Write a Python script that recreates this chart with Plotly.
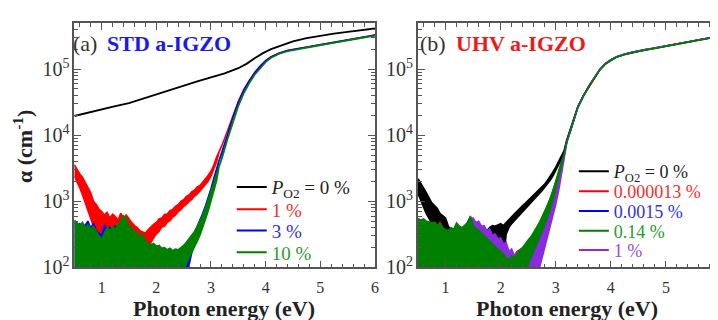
import plotly.graph_objects as go

# ---------------- data ----------------
# common energy grid of the noisy (sub-gap) part, eV
E_noisy = [0.50, 0.55, 0.60, 0.65, 0.70, 0.75, 0.80, 0.85, 0.90, 0.95,
           1.00, 1.05, 1.10, 1.15, 1.20, 1.25, 1.30, 1.35, 1.40, 1.45,
           1.50, 1.55, 1.60, 1.65, 1.70, 1.75, 1.80, 1.85, 1.90, 1.95,
           2.00, 2.05, 2.10, 2.15, 2.20, 2.25, 2.30, 2.35, 2.40, 2.45,
           2.50, 2.55, 2.60, 2.65, 2.70, 2.75, 2.80, 2.85, 2.90, 2.95,
           3.00, 3.05, 3.10]
# energy grid of the smooth (band-edge) part, eV
E_smooth = [3.15, 3.2, 3.3, 3.4, 3.5, 3.6, 3.7, 3.8, 3.9, 4.0,
            4.1, 4.25, 4.4, 4.6, 4.8, 5.0, 5.25, 5.5, 5.75, 6.0]

# ---- panel (a) STD a-IGZO ----
a_black_E = [0.5, 0.75, 1.0, 1.25, 1.5, 1.75, 2.0, 2.25, 2.5, 2.75, 3.0, 3.25,
             3.5, 3.65, 3.8, 3.95, 4.1, 4.3, 4.5, 4.75, 5.0, 5.25, 5.5, 5.75, 6.0]
a_black = [19500, 22000, 24500, 27500, 30500, 35500, 42000, 48500, 56000, 65000,
           75000, 86000, 103000, 120000, 146000, 174000, 200000, 232000, 262000,
           294000, 320000, 343000, 366000, 388000, 410000]

a_red_hi = [3600, 3000, 2600, 2300, 1900, 1600, 1350, 1000, 900, 760,
            700, 620, 680, 560, 640, 590, 520, 660, 560, 620,
            540, 480, 430, 400, 360, 340, 330, 370, 410, 450,
            480, 540, 560, 630, 640, 720, 750, 840, 890, 1000,
            1060, 1190, 1250, 1400, 1480, 1650, 1740, 1960, 2140, 2480,
            2850, 3500, 4600]
a_red_lo = [2400, 2000, 1600, 1250, 950, 760, 560, 420, 300, 330,
            250, 320, 300, 270, 330, 290, 260, 310, 280, 300,
            260, 250, 230, 220, 210, 190, 160, 200, 240, 280,
            320, 350, 410, 420, 480, 510, 580, 620, 700, 750,
            840, 900, 1000, 1070, 1200, 1290, 1430, 1570, 1790, 2020,
            2400, 2950, 3900]
a_red_edge = [5600, 7000, 11500, 20000, 32500, 49000, 67000, 89000, 111000, 134000,
              154000, 175000, 191000, 205000, 220000, 236000, 256000, 278000, 301000, 326000]

a_blue_hi = [480, 420, 460, 400, 440, 500, 390, 470, 360, 330,
             300, 440, 380, 400, 350, 420, 380, 450, 520, 480,
             420, 380, 340, 300, 280, 270, 240, 230, 210, 200,
             190, 185, 180, 175, 170, 165, 160, 160, 150, 140,
             130, 160, 210, 270, 340, 420, 520, 660, 860, 1130,
             1550, 2200, 3100]
a_blue_lo = [50, 50, 50, 50, 50, 50, 50, 50, 50, 50,
             50, 50, 50, 50, 50, 50, 50, 50, 50, 50,
             50, 50, 50, 50, 50, 50, 50, 50, 50, 50,
             50, 50, 50, 50, 50, 50, 50, 50, 50, 50,
             50, 80, 110, 170, 230, 300, 390, 510, 680, 920,
             1280, 1850, 2700]
a_blue_edge = [4200, 5300, 10000, 18500, 31000, 48000, 66000, 88000, 110000, 133000,
               153000, 174000, 190000, 204000, 219000, 235000, 255000, 277000, 300000, 325000]

a_green_hi = [520, 470, 430, 480, 400, 440, 380, 420, 350, 300,
              270, 340, 400, 360, 420, 380, 450, 500, 600, 540,
              430, 390, 350, 320, 290, 320, 250, 235, 220, 230,
              210, 215, 195, 200, 185, 195, 180, 190, 185, 200,
              215, 240, 270, 310, 350, 420, 500, 620, 800, 1050,
              1400, 1900, 2600]
a_green_lo = [50, 50, 50, 50, 50, 50, 50, 50, 50, 50,
              50, 50, 50, 50, 50, 50, 50, 50, 50, 50,
              50, 50, 50, 50, 50, 50, 50, 50, 50, 50,
              50, 50, 50, 50, 50, 50, 50, 50, 50, 50,
              90, 110, 140, 170, 200, 250, 310, 400, 540, 720,
              1000, 1400, 2000]
a_green_edge = [3400, 4400, 8500, 16000, 27500, 43000, 61000, 82000, 104000, 127000,
                148000, 170000, 186000, 200000, 215000, 230000, 250000, 272000, 296000, 320000]

# ---- panel (b) UHV a-IGZO ----
b_black_hi = [2200, 1900, 1600, 1350, 1100, 950, 860, 780, 650, 600,
              560, 420, 380, 340, 330, 320, 310, 320, 300, 310,
              300, 310, 320, 330, 340, 360, 400, 430, 420, 440,
              460, 430, 480, 540, 590, 650, 710, 790, 860, 940,
              1030, 1130, 1240, 1360, 1500, 1650, 1830, 2080, 2380, 2780,
              3300, 3950, 4800]
b_black_lo = [1300, 1050, 820, 650, 540, 470, 420, 400, 360, 330,
              290, 270, 260, 250, 240, 240, 230, 230, 220, 220,
              215, 210, 205, 200, 200, 200, 210, 220, 215, 200,
              160, 120, 320, 400, 460, 520, 580, 650, 720, 790,
              880, 970, 1070, 1180, 1310, 1450, 1610, 1820, 2080, 2430,
              2900, 3500, 4300]
b_black_edge = [5800, 8500, 14800, 26800, 39500, 55000, 73000, 98000, 120000, 137000,
                152000, 167000, 180000, 194000, 207000, 222000, 244000, 268000, 292000, 318000]

b_red_hi = [520, 500, 510, 480, 470, 450, 460, 430, 480, 390,
            360, 350, 380, 370, 440, 400, 390, 420, 450, 570,
            420, 380, 360, 320, 290, 260, 240, 220, 200, 185,
            170, 155, 140, 135, 155, 150, 175, 185, 195, 215,
            240, 275, 320, 380, 450, 550, 670, 850, 1070, 1400,
            1950, 2750, 3850]
b_red_lo = [50, 50, 50, 50, 50, 50, 50, 50, 50, 50,
            50, 50, 50, 50, 50, 50, 50, 50, 50, 50,
            50, 50, 50, 50, 50, 50, 50, 50, 50, 50,
            50, 50, 50, 50, 50, 50, 50, 50, 50, 50,
            105, 135, 180, 215, 265, 335, 425, 555, 735, 1015,
            1450, 2150, 3250]
b_red_edge = [5000, 8000, 14300, 26300, 38800, 54500, 72500, 97500, 119500, 136500,
              151500, 166500, 179500, 193500, 206500, 221500, 243500, 267500, 291500, 317000]

b_blue_hi = [500, 480, 520, 470, 460, 440, 470, 420, 440, 380,
             350, 340, 390, 360, 450, 410, 380, 430, 480, 580,
             410, 370, 350, 310, 280, 255, 235, 215, 195, 180,
             165, 150, 135, 130, 150, 145, 170, 180, 195, 215,
             240, 270, 310, 370, 440, 540, 650, 820, 1030, 1350,
             1900, 2700, 3800]
b_blue_lo = [50, 50, 50, 50, 50, 50, 50, 50, 50, 50,
             50, 50, 50, 50, 50, 50, 50, 50, 50, 50,
             50, 50, 50, 50, 50, 50, 50, 50, 50, 50,
             50, 50, 50, 50, 50, 50, 50, 50, 50, 50,
             95, 120, 150, 185, 230, 300, 390, 510, 680, 950,
             1350, 2050, 3200]
b_blue_edge = [5000, 8100, 14400, 26400, 39000, 55000, 73500, 98500, 121000, 138000,
               153000, 168000, 181000, 195000, 208000, 223000, 245000, 269000, 293000, 319000]

b_green_hi = [550, 520, 540, 500, 490, 470, 480, 440, 460, 400,
              370, 360, 400, 380, 470, 420, 400, 440, 470, 600,
              430, 390, 370, 330, 300, 270, 250, 230, 210, 190,
              175, 160, 140, 130, 150, 140, 160, 185, 200, 230,
              260, 290, 340, 400, 470, 580, 700, 880, 1100, 1450,
              2000, 2800, 3900]
b_green_lo = [50, 50, 50, 50, 50, 50, 50, 50, 50, 50,
              50, 50, 50, 50, 50, 50, 50, 50, 50, 50,
              50, 50, 50, 50, 50, 50, 50, 50, 50, 50,
              50, 50, 50, 50, 50, 50, 50, 50, 50, 50,
              110, 140, 185, 225, 280, 350, 440, 570, 760, 1050,
              1500, 2200, 3300]
b_green_edge = [4900, 8000, 14200, 26200, 38600, 54500, 72500, 97000, 119000, 136000,
                151000, 166000, 179000, 193000, 206000, 221000, 243000, 267000, 291000, 316000]

b_purple_hi = [480, 450, 470, 430, 440, 420, 400, 410, 380, 360,
               340, 350, 370, 360, 400, 380, 390, 420, 450, 540,
               560, 480, 500, 420, 430, 360, 380, 310, 320, 270,
               280, 230, 240, 175, 190, 150, 175, 145, 170, 160,
               185, 175, 215, 230, 300, 340, 470, 560, 780, 980,
               1400, 2000, 3000]
b_purple_lo = [50, 50, 50, 50, 50, 50, 50, 50, 50, 50,
               50, 50, 50, 50, 50, 50, 50, 50, 50, 50,
               50, 50, 50, 50, 50, 50, 50, 50, 50, 50,
               50, 50, 50, 50, 50, 50, 50, 50, 50, 50,
               50, 50, 50, 50, 95, 140, 200, 290, 420, 600,
               900, 1400, 2300]
b_purple_edge = [4300, 7600, 14000, 26000, 38800, 55000, 73500, 99000, 121500, 138500,
                 153500, 168500, 181500, 195500, 208500, 223500, 245500, 270000, 294000, 320000]

legend_a = ["<i>P</i><sub>O2</sub> = 0 %", "1 %", "3 %", "10 %"]
legend_b = ["<i>P</i><sub>O2</sub> = 0 %", "0.000013 %", "0.0015 %", "0.14 %", "1 %"]

# ---------------- styling ----------------
W, H = 718, 320
FONT = "Liberation Serif, Times New Roman, serif"
BLACK, RED, BLUE, GREEN, PURPLE = "#000000", "#ff0000", "#0000ff", "#008000", "#8a2be2"
TXT_BLACK, TXT_RED, TXT_BLUE, TXT_GREEN, TXT_PURPLE = "#222222", "#f03030", "#3030f0", "#2a9a2a", "#9a4ae0"

PLOT_A = (66.7, 369.0)
PLOT_B = (412.3, 717.0)
PLOT_Y = (16.0, 268.7)


def px(x):
    return x / W


def py(y):
    return 1 - y / H


fig = go.Figure()


def band(hi, lo, edge, color, xa, ya):
    x = list(E_noisy) + list(E_smooth) + list(E_smooth)[::-1] + list(E_noisy)[::-1]
    y = list(hi) + list(edge) + list(edge)[::-1] + list(lo)[::-1]
    fig.add_trace(go.Scatter(x=x, y=y, mode="lines", fill="toself", fillcolor=color,
                             line=dict(color=color, width=1.6), xaxis=xa, yaxis=ya,
                             showlegend=False, hoverinfo="skip"))


# panel a
fig.add_trace(go.Scatter(x=a_black_E, y=a_black, mode="lines", line=dict(color=BLACK, width=1.9),
                         xaxis="x", yaxis="y", showlegend=False, hoverinfo="skip"))
band(a_red_hi, a_red_lo, a_red_edge, RED, "x", "y")
band(a_blue_hi, a_blue_lo, a_blue_edge, BLUE, "x", "y")
band(a_green_hi, a_green_lo, a_green_edge, GREEN, "x", "y")

# panel b
band(b_black_hi, b_black_lo, b_black_edge, BLACK, "x2", "y2")
band(b_red_hi, b_red_lo, b_red_edge, RED, "x2", "y2")
band(b_blue_hi, b_blue_lo, b_blue_edge, BLUE, "x2", "y2")
band(b_purple_hi, b_purple_lo, b_purple_edge, PURPLE, "x2", "y2")
band(b_green_hi, b_green_lo, b_green_edge, GREEN, "x2", "y2")

# legends: one legend box per row so the rows can sit at the reference spacing
legend_layout = {}
rows_a = [185.5, 208.5, 230.5, 253.0]
rows_b = [169.5, 190.0, 210.5, 231.0, 251.0]
cols_a = [BLACK, RED, BLUE, GREEN]
tcols_a = [TXT_BLACK, TXT_RED, TXT_BLUE, TXT_GREEN]
cols_b = [BLACK, RED, BLUE, GREEN, PURPLE]
tcols_b = [TXT_BLACK, TXT_RED, TXT_BLUE, TXT_GREEN, TXT_PURPLE]

k = 1
for name, c, tc, ry in zip(legend_a, cols_a, tcols_a, rows_a):
    lid = "legend" if k == 1 else "legend%d" % k
    fig.add_trace(go.Scatter(x=[None], y=[None], mode="lines", line=dict(color=c, width=2),
                             name='<span style="color:%s">%s</span>' % (tc, name),
                             legend=lid, xaxis="x", yaxis="y"))
    legend_layout[lid] = dict(x=px(225), y=py(ry), xanchor="left", yanchor="middle",
                              bgcolor="rgba(0,0,0,0)", itemwidth=30,
                              font=dict(family=FONT, size=19, color=tc))
    k += 1
for name, c, tc, ry in zip(legend_b, cols_b, tcols_b, rows_b):
    lid = "legend%d" % k
    fig.add_trace(go.Scatter(x=[None], y=[None], mode="lines", line=dict(color=c, width=2),
                             name='<span style="color:%s">%s</span>' % (tc, name),
                             legend=lid, xaxis="x2", yaxis="y2"))
    legend_layout[lid] = dict(x=px(569), y=py(ry), xanchor="left", yanchor="middle",
                              bgcolor="rgba(0,0,0,0)", itemwidth=30,
                              font=dict(family=FONT, size=18, color=tc))
    k += 1

axis_common = dict(showline=True, linecolor="#555555", linewidth=1.5, mirror="allticks",
                   ticks="inside", ticklen=7, tickwidth=1.2, tickcolor="#555555",
                   showgrid=False, zeroline=False,
                   tickfont=dict(family=FONT, size=16, color="#333333"))
xcommon = dict(axis_common, range=[0.5, 6], dtick=1, tick0=0, ticklabelstandoff=5,
               minor=dict(dtick=0.2, ticks="inside", ticklen=4, tickcolor="#555555", showgrid=False))
ycommon = dict(axis_common, type="log", range=[2, 5.69], dtick=1, exponentformat="power",
               minor=dict(dtick="D1", ticks="inside", ticklen=4, tickcolor="#555555", showgrid=False))

fig.update_layout(
    width=W, height=H, autosize=False,
    margin=dict(l=0, r=0, t=0, b=0),
    paper_bgcolor="white", plot_bgcolor="white",
    xaxis=dict(xcommon, domain=[px(PLOT_A[0]), px(PLOT_A[1])], anchor="y"),
    yaxis=dict(ycommon, domain=[py(PLOT_Y[1]), py(PLOT_Y[0])], anchor="x"),
    xaxis2=dict(xcommon, domain=[px(PLOT_B[0]), px(PLOT_B[1])], anchor="y2"),
    yaxis2=dict(ycommon, domain=[py(PLOT_Y[1]), py(PLOT_Y[0])], anchor="x2"),
    **legend_layout,
)

ann = [
    dict(x=px(63), y=py(37), text="(a)", font=dict(family=FONT, size=22, color="#333333"),
         xanchor="left"),
    dict(x=px(98), y=py(37), text="<b>STD a-IGZO</b>", font=dict(family=FONT, size=22, color="#1a1aee"),
         xanchor="left"),
    dict(x=px(412), y=py(37), text="(b)", font=dict(family=FONT, size=22, color="#333333"),
         xanchor="left"),
    dict(x=px(449), y=py(37), text="<b>UHV a-IGZO</b>", font=dict(family=FONT, size=22, color="#ee1a1a"),
         xanchor="left"),
    dict(x=px(217), y=py(311), text="<b>Photon energy (eV)</b>", font=dict(family=FONT, size=22, color="#222222"),
         xanchor="center"),
    dict(x=px(562), y=py(311), text="<b>Photon energy (eV)</b>", font=dict(family=FONT, size=22, color="#222222"),
         xanchor="center"),
    dict(x=px(15), y=py(143), text="<b>α (cm<sup>-1</sup>)</b>", textangle=-90,
         font=dict(family=FONT, size=22, color="#222222"), xanchor="center"),
]
for a in ann:
    a.update(xref="paper", yref="paper", showarrow=False, yanchor="middle")
fig.update_layout(annotations=ann)

fig.write_html("out.html")
